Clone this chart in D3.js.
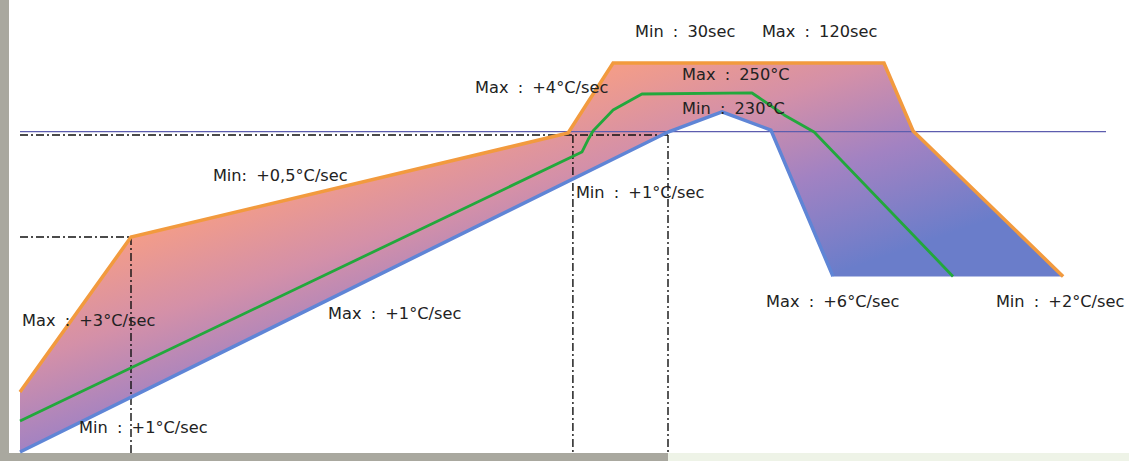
<!DOCTYPE html>
<html>
<head>
<meta charset="utf-8">
<script src="https://cdn.jsdelivr.net/npm/d3@7"></script>
<style>
  html, body { margin: 0; padding: 0; background: #fff; overflow: hidden; }
  svg text { font-family: "DejaVu Sans", Verdana, sans-serif; font-size: 16.2px; fill: #222; word-spacing: 4px; white-space: pre; }
</style>
</head>
<body>
<div id="chart"></div>
<script>
// reflow profile, time in seconds, temperature in °C
const maxTime = [0, 37, 182.7, 197.7, 288, 297.7, 347.7];
const maxTemp = [61.2, 150.1, 209.8, 250, 250, 211, 127.5];

const minTime = [0, 216, 234, 250.3, 271];
const minTemp = [26.7, 210.4, 222, 211.5, 127.5];

const nomTime = [0, 187.3, 189.3, 191, 197.7, 207.3, 244, 246, 254.7, 264.7, 311];
const nomTemp = [44.5, 198.9, 205.8, 211, 223, 232.2, 232.8, 230.5, 220.2, 210.4, 127.5];

const liquidusTemp = 210.6;
const limitTemp = 208.7;
const preheatTemp = 150.1;
const markTimes = [37, 184.3, 216];

const labelText = [
  "Min : 30sec", "Max : 120sec", "Max : +4°C/sec", "Max : 250°C", "Min : 230°C",
  "Min: +0,5°C/sec", "Min : +1°C/sec", "Max : +3°C/sec", "Max : +1°C/sec",
  "Min : +1°C/sec", "Max : +6°C/sec", "Min : +2°C/sec"
];
const labelTime = [205, 247.3, 151.7, 220.7, 220.7, 64.3, 185.3, 0.7, 102.7, 19.7, 248.7, 325.3];
const labelTemp = [264.9, 264.9, 232.8, 240.2, 220.7, 182.3, 172.5, 99, 103.1, 37.6, 110, 110];

const width = 1129, height = 461;

const svg = d3.select("#chart").append("svg")
  .attr("width", width)
  .attr("height", height);

const x = d3.scaleLinear().domain([0, 360]).range([20, 1100]);
const y = d3.scaleLinear().domain([25, 250]).range([455, 63]);

// frame
svg.append("rect").attr("x", 0).attr("y", 0).attr("width", 9).attr("height", height).attr("fill", "#a9a89f");
svg.append("rect").attr("x", 0).attr("y", 453).attr("width", x(216)).attr("height", 8).attr("fill", "#a9a89f");
svg.append("rect").attr("x", x(216)).attr("y", 453).attr("width", width - x(216)).attr("height", 8).attr("fill", "#eef3e7");

const defs = svg.append("defs");
const grad = defs.append("linearGradient")
  .attr("id", "band")
  .attr("gradientUnits", "userSpaceOnUse")
  .attr("x1", 132).attr("y1", 240)
  .attr("x2", 219).attr("y2", 489);
grad.append("stop").attr("offset", 0).attr("stop-color", "#f29c8a");
grad.append("stop").attr("offset", 0.3).attr("stop-color", "#d490a8");
grad.append("stop").attr("offset", 0.62).attr("stop-color", "#a282c2");
grad.append("stop").attr("offset", 1).attr("stop-color", "#6a7dca");

const maxPts = maxTime.map((t, i) => [t, maxTemp[i]]);
const minPts = minTime.map((t, i) => [t, minTemp[i]]);
const nomPts = nomTime.map((t, i) => [t, nomTemp[i]]);

const line = d3.line().x(d => x(d[0])).y(d => y(d[1]));

// process window band
const band = maxPts.concat(minPts.slice().reverse());
svg.append("path")
  .attr("d", line(band) + "Z")
  .attr("fill", "url(#band)");

// liquidus line
svg.append("line")
  .attr("x1", x(0)).attr("x2", x(362))
  .attr("y1", y(liquidusTemp)).attr("y2", y(liquidusTemp))
  .attr("stroke", "#5d5dae").attr("stroke-width", 1.3);

// dash-dot guides
const dash = "8,3,2,3";
const guides = [
  [[0, limitTemp], [216, limitTemp]],
  [[0, preheatTemp], [markTimes[0], preheatTemp]],
  [[markTimes[0], preheatTemp], [markTimes[0], 25]],
  [[markTimes[1], limitTemp], [markTimes[1], 25]],
  [[markTimes[2], limitTemp], [markTimes[2], 25]]
];
svg.append("g").selectAll("path")
  .data(guides)
  .enter().append("path")
  .attr("d", line)
  .attr("fill", "none")
  .attr("stroke", "#111")
  .attr("stroke-width", 1.4)
  .attr("stroke-dasharray", dash);

svg.append("path").attr("d", line(minPts))
  .attr("fill", "none").attr("stroke", "#5f85d6").attr("stroke-width", 3.5);
svg.append("path").attr("d", line(maxPts))
  .attr("fill", "none").attr("stroke", "#f29a3e").attr("stroke-width", 3.5);
svg.append("path").attr("d", line(nomPts))
  .attr("fill", "none").attr("stroke", "#22a83c").attr("stroke-width", 2.8)
  .attr("stroke-linejoin", "round");

svg.append("g").selectAll("text")
  .data(labelText)
  .enter().append("text")
  .attr("x", (d, i) => x(labelTime[i]))
  .attr("y", (d, i) => y(labelTemp[i]))
  .text(d => d);
</script>
</body>
</html>
